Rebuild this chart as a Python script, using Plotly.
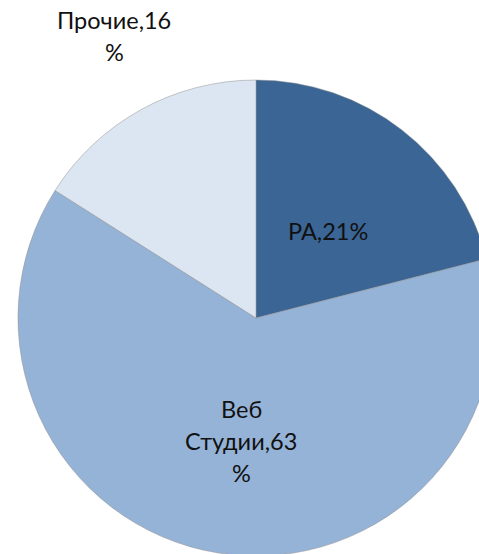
import plotly.graph_objects as go

labels = ["PA", "Веб Студии", "Прочие"]
values = [21, 63, 16]
colors = ["#3A6595", "#95B3D7", "#DCE6F2"]

W, H = 500, 560
cx, cy, r = 256, 318, 238

fig = go.Figure(go.Pie(
    labels=labels,
    values=values,
    sort=False,
    direction="clockwise",
    rotation=0,
    textinfo="none",
    hoverinfo="label+percent",
    marker=dict(colors=colors, line=dict(color="rgba(140,140,140,0.6)", width=0.8)),
    domain=dict(x=[(cx - r) / W, (cx + r) / W], y=[1 - (cy + r) / H, 1 - (cy - r) / H]),
    showlegend=False,
))

# label text lines, built from data, wrapped as in the reference
texts = [f"{l},{v}%" for l, v in zip(labels, values)]
lines = [
    [texts[0]],
    ["Веб", "Студии,63", "%"],
    ["Прочие,16", "%"],
]
positions = [
    (328, [231]),
    (241, [409, 441, 473]),
    (114, [20, 52]),
]
anns = []
for ls, (x, ys) in zip(lines, positions):
    for t, y in zip(ls, ys):
        anns.append(dict(text=t, x=x / W, y=1 - y / H, xref="paper", yref="paper",
                         showarrow=False, xanchor="center", yanchor="middle", borderpad=0,
                         font=dict(family="Lato", size=23.5, color="#111111")))

fig.update_layout(
    width=W, height=H,
    margin=dict(l=0, r=0, t=0, b=0),
    paper_bgcolor="white",
    plot_bgcolor="white",
    annotations=anns,
)

fig.write_html(
    "out.html",
    config={"displayModeBar": False},
    post_script=("document.body.style.margin='0';"
                 "document.body.style.overflow='hidden';"
                 "document.documentElement.style.overflow='hidden';"),
)
